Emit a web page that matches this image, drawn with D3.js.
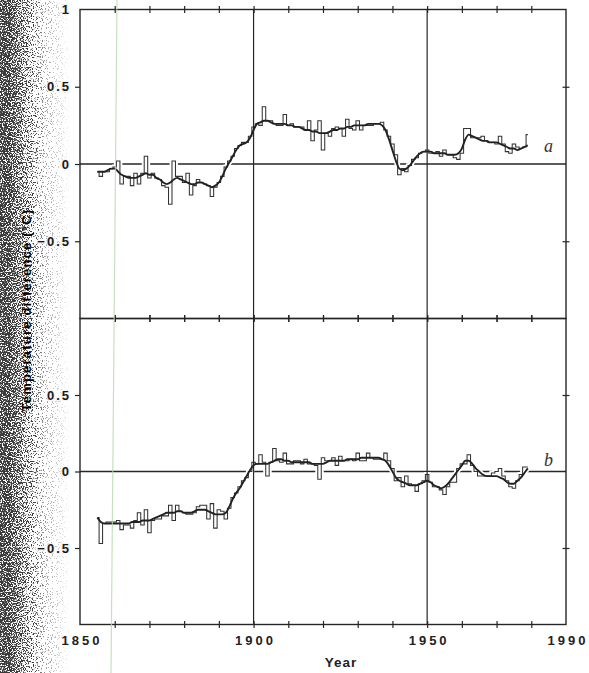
<!DOCTYPE html>
<html>
<head>
<meta charset="utf-8">
<script src="https://cdn.jsdelivr.net/npm/d3@7"></script>
<style>
  html, body { margin: 0; padding: 0; background: #fff; }
  svg { display: block; }
</style>
</head>
<body>
<svg id="chart" width="589" height="673"></svg>
<script>
// ---- data: annual temperature differences (°C), first year 1855 ----
const startYear = 1855;

// curve a: yearly values (step trace)
const annualA = [
  -0.05, -0.08, -0.05, -0.05, -0.03,                                   // 1855-59
  -0.02, 0.02, -0.13, -0.08, -0.08, -0.14, -0.06, -0.13, -0.06, 0.05,  // 1860s
  -0.09, -0.06, -0.09, -0.10, -0.14, -0.15, -0.26, 0.02, -0.08, -0.08, // 1870s
  -0.12, -0.06, -0.20, -0.14, -0.10, -0.12, -0.13, -0.14, -0.21, -0.15,// 1880s
  -0.12, -0.08, -0.02, 0.02, 0.05, 0.10, 0.12, 0.14, 0.14, 0.18,       // 1890s
  0.24, 0.26, 0.25, 0.37, 0.28, 0.28, 0.26, 0.25, 0.25, 0.32,          // 1900s
  0.25, 0.26, 0.24, 0.24, 0.24, 0.22, 0.28, 0.15, 0.22, 0.28,          // 1910s
  0.09, 0.20, 0.18, 0.23, 0.24, 0.23, 0.18, 0.29, 0.23, 0.22,          // 1920s
  0.28, 0.22, 0.25, 0.25, 0.25, 0.26, 0.26, 0.27, 0.22, 0.18,          // 1930s
  0.13, 0.06, -0.07, -0.03, -0.05, -0.01, 0.03, 0.04, 0.07, 0.08,      // 1940s
  0.09, 0.07, 0.07, 0.08, 0.05, 0.09, 0.06, 0.06, 0.04, 0.03,          // 1950s
  0.07, 0.23, 0.23, 0.17, 0.17, 0.17, 0.18, 0.15, 0.14, 0.14,          // 1960s
  0.13, 0.18, 0.13, 0.08, 0.07, 0.13, 0.11, 0.10, 0.11, 0.19           // 1970s
];

// curve a: smoothed values
const smoothA = [
  -0.05, -0.05, -0.05, -0.04, -0.03,
  -0.03, -0.05, -0.07, -0.08, -0.09, -0.09, -0.09, -0.08, -0.07, -0.06,
  -0.07, -0.07, -0.09, -0.10, -0.12, -0.13, -0.12, -0.10, -0.09, -0.10,
  -0.11, -0.12, -0.13, -0.13, -0.12, -0.12, -0.13, -0.14, -0.15, -0.14,
  -0.12, -0.08, -0.03, 0.01, 0.05, 0.09, 0.12, 0.13, 0.14, 0.17,
  0.22, 0.26, 0.27, 0.28, 0.28, 0.27, 0.26, 0.26, 0.26, 0.26,
  0.25, 0.25, 0.24, 0.24, 0.23, 0.22, 0.22, 0.21, 0.21, 0.20,
  0.20, 0.20, 0.21, 0.22, 0.22, 0.23, 0.23, 0.24, 0.24, 0.25,
  0.25, 0.25, 0.25, 0.26, 0.26, 0.26, 0.26, 0.25, 0.22, 0.16,
  0.09, 0.02, -0.03, -0.04, -0.03, -0.01, 0.02, 0.05, 0.07, 0.08,
  0.08, 0.08, 0.07, 0.07, 0.07, 0.07, 0.06, 0.06, 0.06, 0.07,
  0.10, 0.16, 0.19, 0.18, 0.17, 0.16, 0.15, 0.15, 0.14, 0.14,
  0.14, 0.13, 0.12, 0.11, 0.10, 0.10, 0.09, 0.10, 0.11, 0.12
];

// curve b: yearly values (step trace)
const annualB = [
  -0.30, -0.47, -0.34, -0.33, -0.33,
  -0.33, -0.32, -0.38, -0.35, -0.35, -0.37, -0.32, -0.27, -0.35, -0.25,
  -0.40, -0.32, -0.31, -0.31, -0.29, -0.29, -0.22, -0.32, -0.22, -0.26,
  -0.27, -0.28, -0.28, -0.27, -0.23, -0.22, -0.22, -0.31, -0.21, -0.37,
  -0.25, -0.26, -0.31, -0.24, -0.17, -0.14, -0.10, -0.06, -0.04, 0.00,
  0.06, 0.05, 0.11, 0.06, -0.03, 0.06, 0.15, 0.07, 0.06, 0.12,
  0.05, 0.05, 0.07, 0.07, 0.05, 0.08, 0.05, 0.05, 0.04, -0.05,
  0.09, 0.07, 0.07, 0.09, 0.04, 0.10, 0.07, 0.07, 0.08, 0.07,
  0.12, 0.07, 0.07, 0.12, 0.09, 0.08, 0.08, 0.08, 0.12, 0.07,
  0.02, -0.06, -0.04, -0.10, -0.03, -0.08, -0.09, -0.13, -0.08, -0.06,
  -0.02, -0.07, -0.10, -0.10, -0.12, -0.15, -0.10, -0.07, -0.07, 0.02,
  0.05, 0.05, 0.11, 0.04, 0.00, -0.03, -0.03, -0.03, -0.03, -0.01,
  0.00, 0.02, -0.03, -0.06, -0.10, -0.11, -0.06, -0.02, 0.03, 0.03
];

// curve b: smoothed values
const smoothB = [
  -0.30, -0.33, -0.34, -0.34, -0.34,
  -0.34, -0.34, -0.34, -0.34, -0.34, -0.33, -0.33, -0.33, -0.32, -0.32,
  -0.32, -0.31, -0.30, -0.29, -0.28, -0.27, -0.27, -0.27, -0.26, -0.26,
  -0.27, -0.27, -0.27, -0.26, -0.25, -0.25, -0.25, -0.26, -0.27, -0.28,
  -0.28, -0.28, -0.27, -0.23, -0.18, -0.14, -0.11, -0.07, -0.03, 0.01,
  0.04, 0.05, 0.05, 0.05, 0.05, 0.06, 0.07, 0.08, 0.08, 0.07,
  0.07, 0.06, 0.06, 0.06, 0.06, 0.06, 0.06, 0.05, 0.05, 0.05,
  0.05, 0.06, 0.07, 0.07, 0.07, 0.07, 0.07, 0.08, 0.08, 0.08,
  0.08, 0.09, 0.09, 0.09, 0.09, 0.09, 0.09, 0.08, 0.07, 0.04,
  0.00, -0.04, -0.06, -0.07, -0.08, -0.09, -0.09, -0.09, -0.08, -0.07,
  -0.06, -0.07, -0.09, -0.10, -0.11, -0.10, -0.08, -0.05, -0.02, 0.01,
  0.04, 0.07, 0.07, 0.05, 0.02, 0.00, -0.02, -0.03, -0.03, -0.03,
  -0.03, -0.04, -0.05, -0.07, -0.08, -0.08, -0.06, -0.04, -0.01, 0.02
];

const yearLabels = [1850, 1900, 1950, 1990];
const gridYears = [1900, 1950];
const valueLabels = [0.5, 0, -0.5];
const panelNames = ["a", "b"];
const yTitle = "Temperature difference (°C)";
const xTitle = "Year";

// ---- layout ----
const svg = d3.select("#chart");
const W = 589, H = 673;
const ink = "#262626";
const fontSans = "'Liberation Sans', Arial, Helvetica, sans-serif";

const x = d3.scaleLinear().domain([1850, 1990]).range([80, 566]);
const panelBoxes = [
  { top: 9.5, bottom: 318.5 },
  { top: 318.5, bottom: 624.5 }
];

const toPoints = arr => arr.map((v, i) => ({ year: startYear + i, v }));
const series = [
  { annual: toPoints(annualA), smooth: toPoints(smoothA) },
  { annual: toPoints(annualB), smooth: toPoints(smoothB) }
];

// ---- grainy darkened left margin of the sheet ----
const bandW = 82;
const defs = svg.append("defs");
const shade = defs.append("linearGradient")
  .attr("id", "edgeShade").attr("x1", 0).attr("x2", 1).attr("y1", 0).attr("y2", 0);
[[0, 1], [0.1, 0.97], [0.26, 0.7], [0.4, 0.44], [0.56, 0.28], [0.78, 0.17], [1, 0.05]]
  .forEach(([o, a]) => shade.append("stop")
    .attr("offset", o).attr("stop-color", "#000").attr("stop-opacity", a));

const grain = defs.append("filter").attr("id", "grain")
  .attr("filterUnits", "userSpaceOnUse")
  .attr("x", 0).attr("y", 0).attr("width", bandW).attr("height", H);
grain.append("feTurbulence")
  .attr("type", "fractalNoise").attr("baseFrequency", 0.8)
  .attr("numOctaves", 2).attr("seed", 7).attr("result", "t");
grain.append("feColorMatrix").attr("in", "t").attr("type", "matrix")
  .attr("values", "0 0 0 0 0  0 0 0 0 0  0 0 0 0 0  3.4 0 0 0 -1.2")
  .attr("result", "n");
grain.append("feComposite").attr("in", "SourceGraphic").attr("in2", "n")
  .attr("operator", "arithmetic")
  .attr("k1", 0).attr("k2", 3.2).attr("k3", 3.0).attr("k4", -3.4)
  .attr("result", "m");
grain.append("feFlood").attr("flood-color", "#3a3a3a").attr("result", "f");
grain.append("feComposite").attr("in", "f").attr("in2", "m").attr("operator", "in");

svg.append("rect")
  .attr("x", 0).attr("y", 0).attr("width", bandW).attr("height", H)
  .attr("fill", "url(#edgeShade)")
  .attr("filter", "url(#grain)");

// ---- panels ----
panelBoxes.forEach((box, p) => {
  const y = d3.scaleLinear().domain([-1, 1]).range([box.bottom, box.top]);
  const g = svg.append("g");
  const [x0, x1] = x.range();

  // zero reference line
  g.append("line")
    .attr("x1", x0).attr("x2", x1)
    .attr("y1", y(0)).attr("y2", y(0))
    .attr("stroke", ink).attr("stroke-width", 1.3);

  const stepLine = d3.line().x(d => x(d.year)).y(d => y(d.v)).curve(d3.curveStep);
  const smoothLine = d3.line().x(d => x(d.year)).y(d => y(d.v)).curve(d3.curveMonotoneX);

  // white halo interrupts the zero line where the curves cross it
  [stepLine(series[p].annual), smoothLine(series[p].smooth)].forEach(dp => {
    g.append("path").attr("d", dp).attr("fill", "none")
      .attr("stroke", "#fff").attr("stroke-width", 5).attr("stroke-linejoin", "round");
  });

  g.append("path").attr("d", stepLine(series[p].annual))
    .attr("fill", "none").attr("stroke", "#333").attr("stroke-width", 1.05);
  g.append("path").attr("d", smoothLine(series[p].smooth))
    .attr("fill", "none").attr("stroke", "#222").attr("stroke-width", 1.9)
    .attr("stroke-linejoin", "round");

  // vertical reference years
  gridYears.forEach(yr => {
    g.append("line")
      .attr("x1", x(yr)).attr("x2", x(yr))
      .attr("y1", box.top).attr("y2", box.bottom)
      .attr("stroke", ink).attr("stroke-width", 1.2);
  });

  // frame
  g.append("rect")
    .attr("x", x0).attr("y", box.top)
    .attr("width", x1 - x0).attr("height", box.bottom - box.top)
    .attr("fill", "none").attr("stroke", ink).attr("stroke-width", 1.4);

  // decade ticks crossing top and bottom edges
  const decades = d3.range(1860, 1990, 10);
  [box.top, box.bottom].forEach(yy => {
    [d3.axisTop(x), d3.axisBottom(x)].forEach(ax => {
      const a = g.append("g").attr("transform", `translate(0,${yy})`)
        .call(ax.tickValues(decades).tickSize(3.5).tickFormat(""));
      a.select(".domain").remove();
      a.selectAll("line").attr("stroke", ink).attr("stroke-width", 1.2);
    });
  });

  // value ticks: outward on the left, crossing on the right
  const left = g.append("g").attr("transform", `translate(${x0},0)`)
    .call(d3.axisLeft(y).tickValues(valueLabels).tickSize(5).tickFormat(""));
  left.select(".domain").remove();
  left.selectAll("line").attr("stroke", ink).attr("stroke-width", 1.2);
  [d3.axisLeft(y), d3.axisRight(y)].forEach(ax => {
    const a = g.append("g").attr("transform", `translate(${x1},0)`)
      .call(ax.tickValues([0.5, -0.5]).tickSize(3.5).tickFormat(""));
    a.select(".domain").remove();
    a.selectAll("line").attr("stroke", ink).attr("stroke-width", 1.2);
  });

  // value labels (light paper halo keeps them legible over the grain)
  const labs = p === 0 ? [1].concat(valueLabels) : valueLabels;
  g.selectAll("text.val").data(labs).join("text")
    .attr("class", "val")
    .attr("x", 71).attr("y", d => y(d)).attr("dy", "0.36em")
    .attr("text-anchor", "end")
    .attr("font-family", fontSans).attr("font-size", 13).attr("font-weight", "bold")
    .attr("letter-spacing", 2).attr("fill", "#1a1a1a")
    .attr("stroke", "#f4f4f4").attr("stroke-width", 2.2)
    .attr("stroke-linejoin", "round").attr("paint-order", "stroke")
    .text(d => d < 0 ? "\u2212" + Math.abs(d) : String(d));

  // curve name
  g.append("text")
    .attr("x", 544).attr("y", y(0) - (p === 0 ? 12 : 6))
    .attr("font-family", "'Liberation Serif', 'Times New Roman', serif")
    .attr("font-style", "italic").attr("font-size", 18).attr("fill", "#333")
    .text(panelNames[p]);
});

// ---- year labels and axis titles ----
svg.selectAll("text.year").data(yearLabels).join("text")
  .attr("class", "year")
  .attr("x", d => x(d) + 2).attr("y", 645)
  .attr("text-anchor", "middle")
  .attr("font-family", fontSans).attr("font-size", 13).attr("font-weight", "bold")
  .attr("letter-spacing", 3).attr("fill", "#222")
  .text(d => d);

svg.append("text")
  .attr("x", 341).attr("y", 667)
  .attr("text-anchor", "middle")
  .attr("font-family", fontSans).attr("font-size", 13.5).attr("font-weight", "bold")
  .attr("letter-spacing", 1).attr("fill", "#222")
  .text(xTitle);

svg.append("text")
  .attr("transform", "translate(31,310) rotate(-90)")
  .attr("text-anchor", "middle")
  .attr("font-family", fontSans).attr("font-size", 13).attr("font-weight", "bold")
  .attr("letter-spacing", 1.2).attr("fill", "#000")
  .text(yTitle);

// faint vertical streak from the scanner glass
svg.append("line")
  .attr("x1", 117).attr("y1", 0).attr("x2", 111).attr("y2", H)
  .attr("stroke", "#b9d9b0").attr("stroke-width", 1.2).attr("opacity", 0.8);
</script>
</body>
</html>
